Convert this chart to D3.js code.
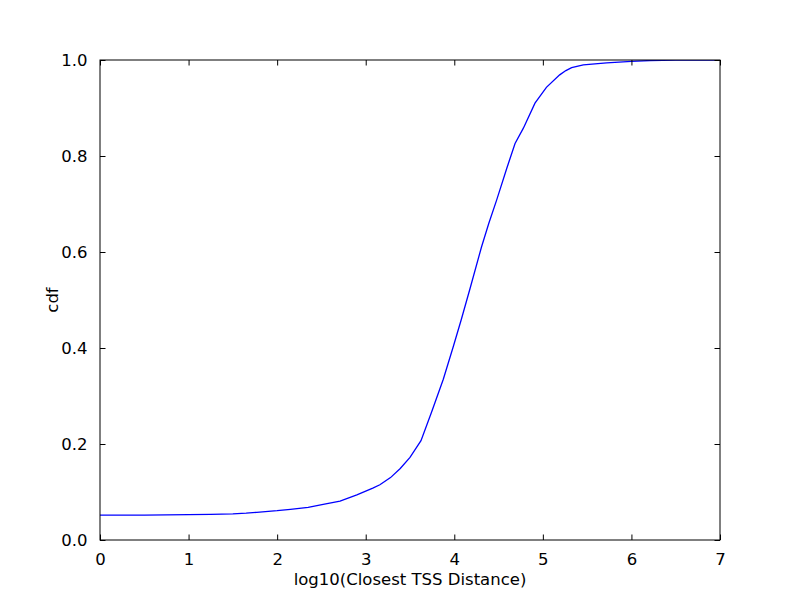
<!DOCTYPE html>
<html><head><meta charset="utf-8">
<script src="https://cdn.jsdelivr.net/npm/d3@7"></script>
<style>body{margin:0;background:#fff}svg{display:block}text{font-family:"DejaVu Sans",sans-serif;fill:#000}</style>
</head><body><svg id="c" width="800" height="600"></svg>
<script>
const xVals = [0, 0.5, 1.0, 1.25, 1.5, 1.65, 1.77, 1.9, 2.0, 2.15, 2.35, 2.52, 2.71, 2.9, 3.08, 3.16, 3.28, 3.39, 3.5, 3.624, 3.745, 3.876, 3.989, 4.08, 4.178, 4.308, 4.39, 4.478, 4.592, 4.686, 4.78, 4.911, 5.04, 5.19, 5.26, 5.325, 5.457, 5.72, 6.0, 6.21, 6.5, 7.0];
const cdfVals = [0.052, 0.052, 0.053, 0.0535, 0.0545, 0.056, 0.0577, 0.0595, 0.061, 0.064, 0.068, 0.074, 0.081, 0.094, 0.108, 0.115, 0.13, 0.149, 0.172, 0.207, 0.267, 0.335, 0.403, 0.46, 0.524, 0.611, 0.66, 0.708, 0.774, 0.826, 0.858, 0.91, 0.943, 0.969, 0.978, 0.984, 0.99, 0.994, 0.997, 0.999, 1.0, 1.0];
const xTicks = [0,1,2,3,4,5,6,7];
const yTicks = [0.0,0.2,0.4,0.6,0.8,1.0];

(function(){
const svg = d3.select("#c");
const L=100,R=720,T=60,B=540;
const x = d3.scaleLinear().domain([0,7]).range([L,R]);
const y = d3.scaleLinear().domain([0,1]).range([B,T]);

svg.append("defs").append("clipPath").attr("id","clp").append("rect").attr("x",L).attr("y",T).attr("width",R-L).attr("height",B-T);

const line = d3.line().x((d,i)=>x(xVals[i])).y((d,i)=>y(cdfVals[i]));
svg.append("path").datum(cdfVals).attr("d",line).attr("fill","none").attr("stroke","#0000ff").attr("stroke-width",1.3).attr("clip-path","url(#clp)");

const fs = 16.5;
const tl = 5.5;
const axB = d3.axisBottom(x).tickValues(xTicks).tickFormat(d3.format("d")).tickSize(-tl).tickPadding(tl+8);
const axT = d3.axisTop(x).tickValues(xTicks).tickFormat("").tickSize(-tl);
const axL = d3.axisLeft(y).tickValues(yTicks).tickFormat(d3.format(".1f")).tickSize(-tl).tickPadding(tl+7);
const axR = d3.axisRight(y).tickValues(yTicks).tickFormat("").tickSize(-tl);

function style(g){
  g.select(".domain").remove();
  g.selectAll(".tick line").attr("stroke","#000").attr("stroke-width",1);
  g.selectAll(".tick text").attr("font-size",fs).attr("font-family","DejaVu Sans, sans-serif").attr("fill","#000");
}
svg.append("g").attr("transform",`translate(0,${B})`).call(axB).call(style);
svg.append("g").attr("transform",`translate(0,${T})`).call(axT).call(style);
svg.append("g").attr("transform",`translate(${L},0)`).call(axL).call(style);
svg.append("g").attr("transform",`translate(${R},0)`).call(axR).call(style);

svg.append("rect").attr("x",L).attr("y",T).attr("width",R-L).attr("height",B-T).attr("fill","none").attr("stroke","#000").attr("stroke-width",1);

svg.append("text").attr("x",(L+R)/2).attr("y",585).attr("text-anchor","middle").attr("font-size",fs).text("log10(Closest TSS Distance)");
svg.append("text").attr("transform",`translate(58,${(T+B)/2}) rotate(-90)`).attr("text-anchor","middle").attr("font-size",fs).text("cdf");
})();
</script></body></html>
